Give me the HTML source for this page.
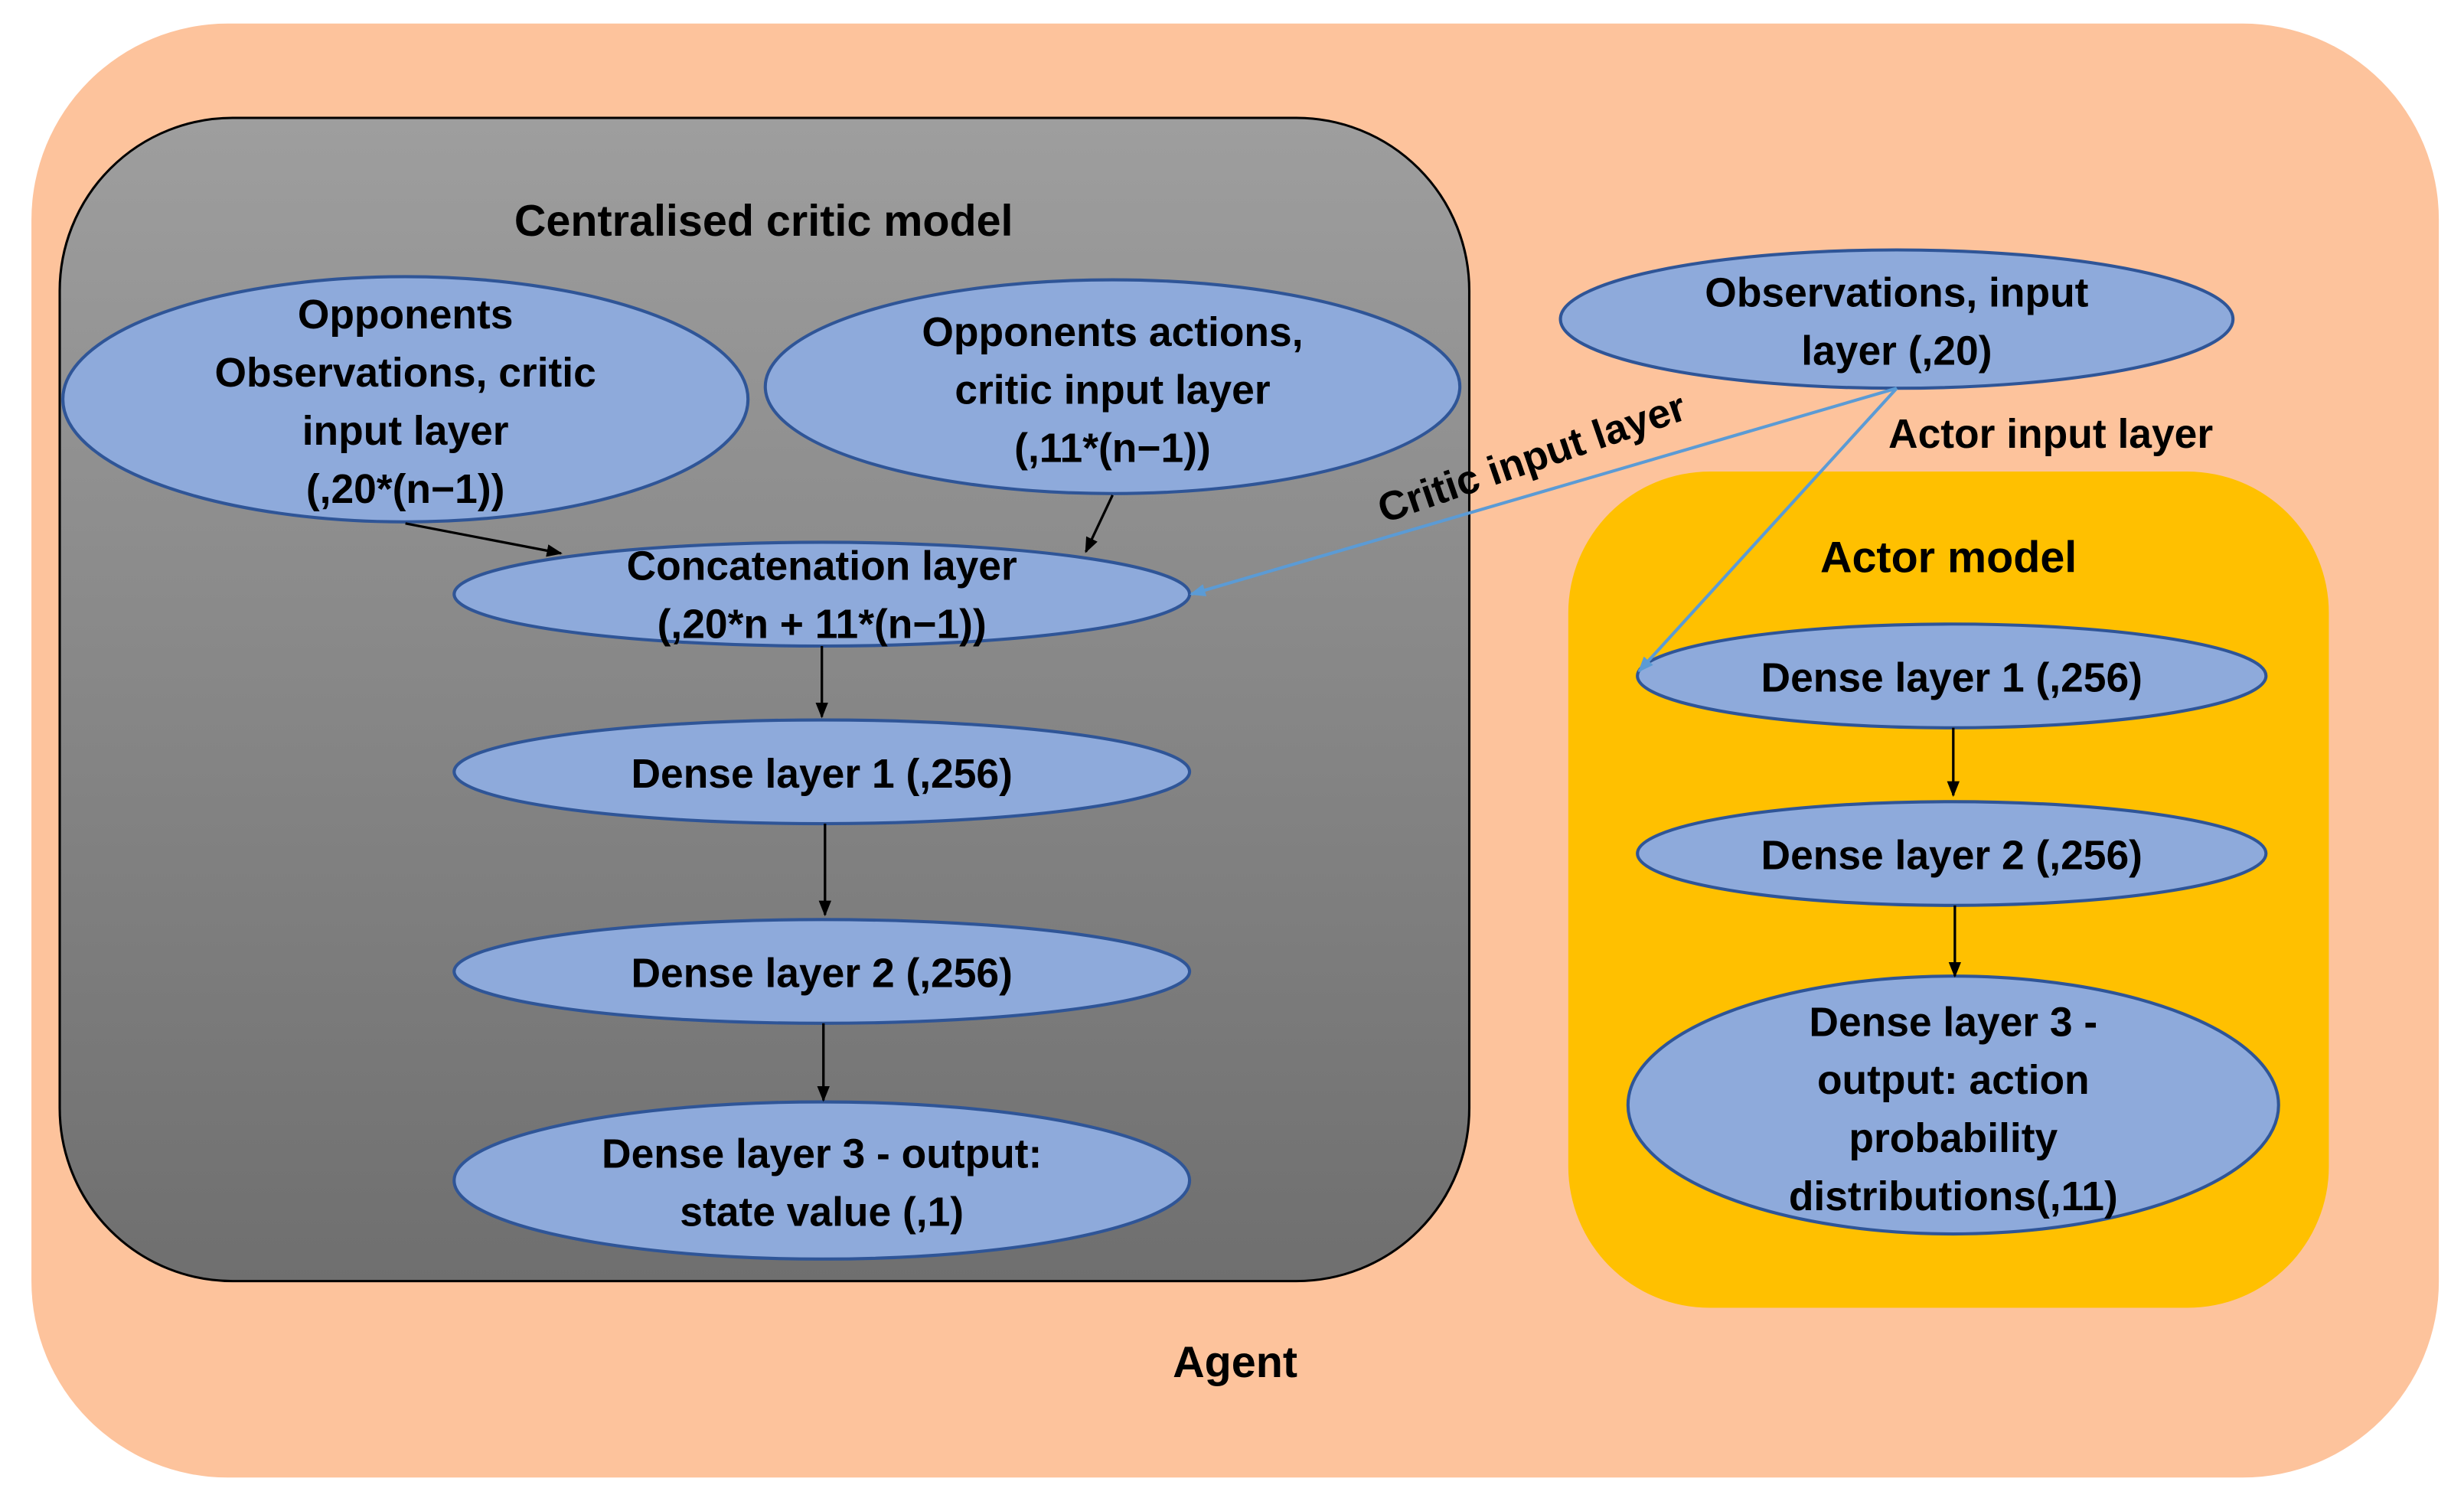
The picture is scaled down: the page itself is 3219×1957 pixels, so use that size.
<!DOCTYPE html>
<html><head><meta charset="utf-8"><style>
html,body{margin:0;padding:0;background:#fff;}
svg{display:block;}
text{font-family:"Liberation Sans",sans-serif;font-weight:bold;fill:#000;}
</style></head><body>
<svg width="3219" height="1957" viewBox="0 0 1568 953" preserveAspectRatio="none" xmlns="http://www.w3.org/2000/svg">
<defs>
<linearGradient id="g" x1="0" y1="0" x2="0" y2="1">
<stop offset="0" stop-color="#9e9e9e"/><stop offset="1" stop-color="#6f6f6f"/>
</linearGradient>
<marker id="a" markerWidth="10" markerHeight="10" refX="9" refY="5" orient="auto" markerUnits="userSpaceOnUse"><path d="M0,1 L10,5 L0,9 z" fill="#000"/></marker>
<marker id="b" markerWidth="10" markerHeight="10" refX="9" refY="5" orient="auto" markerUnits="userSpaceOnUse"><path d="M0,1 L10,5 L0,9 z" fill="#5b9bd5"/></marker>
</defs>
<rect x="0" y="0" width="1568" height="953" fill="#fff"/>
<rect x="20" y="15" width="1532" height="925" rx="125" fill="#fdc39c"/>
<rect x="38" y="75" width="897" height="740" rx="110" fill="url(#g)" stroke="#000" stroke-width="1.5"/>
<rect x="998" y="300" width="484" height="532" rx="90" fill="#ffc000"/>
<g fill="#8eaadb" stroke="#2f5597" stroke-width="2">
<ellipse cx="258" cy="254" rx="218" ry="78"/>
<ellipse cx="708" cy="246" rx="221" ry="68"/>
<ellipse cx="523" cy="378" rx="234" ry="33"/>
<ellipse cx="523" cy="491" rx="234" ry="33"/>
<ellipse cx="523" cy="618" rx="234" ry="33"/>
<ellipse cx="523" cy="751" rx="234" ry="50"/>
<ellipse cx="1207" cy="203" rx="214" ry="44"/>
<ellipse cx="1242" cy="430" rx="200" ry="33"/>
<ellipse cx="1242" cy="543" rx="200" ry="33"/>
<ellipse cx="1243" cy="703" rx="207" ry="82"/>
</g>
<g stroke="#000" stroke-width="1.6" marker-end="url(#a)">
<line x1="258" y1="333" x2="357" y2="352"/>
<line x1="708" y1="315" x2="691" y2="351"/>
<line x1="523" y1="411" x2="523" y2="456"/>
<line x1="525" y1="524" x2="525" y2="582"/>
<line x1="524" y1="651" x2="524" y2="700"/>
<line x1="1243" y1="463" x2="1243" y2="506"/>
<line x1="1244" y1="576" x2="1244" y2="621"/>
</g>
<g stroke="#5b9bd5" stroke-width="2" marker-end="url(#b)">
<line x1="1207" y1="247" x2="758" y2="378"/>
<line x1="1207" y1="247" x2="1043" y2="427"/>
</g>
<g font-size="26" text-anchor="middle">
<text x="486" y="150" font-size="28">Centralised critic model</text>
<text x="258" y="209">Opponents</text>
<text x="258" y="246">Observations, critic</text>
<text x="258" y="283">input layer</text>
<text x="258" y="320">(,20*(n−1))</text>
<text x="708" y="220">Opponents actions,</text>
<text x="708" y="257">critic input layer</text>
<text x="708" y="294">(,11*(n−1))</text>
<text x="523" y="369">Concatenation layer</text>
<text x="523" y="406">(,20*n + 11*(n−1))</text>
<text x="523" y="501">Dense layer 1 (,256)</text>
<text x="523" y="628">Dense layer 2 (,256)</text>
<text x="523" y="743">Dense layer 3 - output:</text>
<text x="523" y="780">state value (,1)</text>
<text x="1207" y="195">Observations, input</text>
<text x="1207" y="232">layer (,20)</text>
<text x="1305" y="285">Actor input layer</text>
<text x="1240" y="364" font-size="28">Actor model</text>
<text x="1242" y="440">Dense layer 1 (,256)</text>
<text x="1242" y="553">Dense layer 2 (,256)</text>
<text x="1243" y="659">Dense layer 3 -</text>
<text x="1243" y="696">output: action</text>
<text x="1243" y="733">probability</text>
<text x="1243" y="770">distributions(,11)</text>
<text x="786" y="876" font-size="28">Agent</text>
<text x="975" y="300" transform="rotate(-19 975 292)">Critic input layer</text>
</g>
</svg>
</body></html>
